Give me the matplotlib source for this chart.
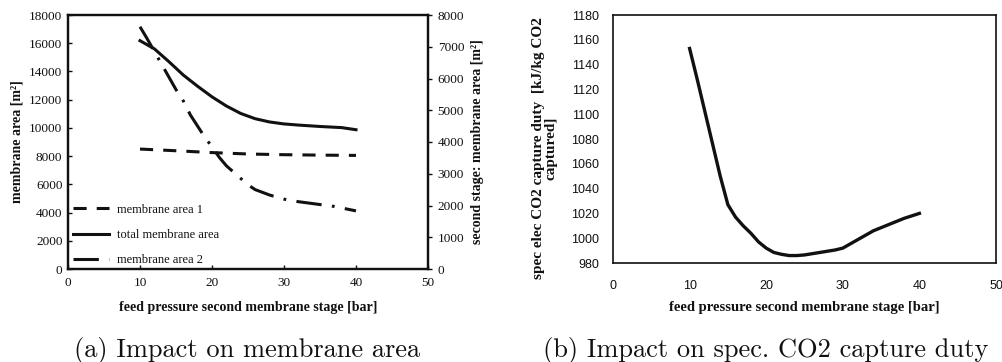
import matplotlib
matplotlib.use("Agg")
import matplotlib.pyplot as plt

# ---------------- data ----------------
# (a) membrane areas vs feed pressure of the second stage
p_area1 = [10, 15, 20, 25, 30, 35, 40]
area1 = [8500, 8380, 8250, 8150, 8100, 8070, 8050]

p_total = [10, 12, 14, 16, 18, 20, 22, 24, 26, 28, 30, 32, 35, 38, 40]
total_area = [16180, 15600, 14700, 13750, 12950, 12200, 11550, 11020, 10650, 10420, 10280, 10200, 10100, 10020, 9870]

p_area2 = [10, 11, 12, 13, 14, 15, 16, 17, 18, 19, 20, 21, 22, 23, 24, 25, 26, 28, 30, 32, 35, 37, 40]
area2 = [7630, 7250, 6850, 6450, 6050, 5650, 5300, 4850, 4500, 4150, 3850, 3520, 3250, 3050, 2850,
         2650, 2500, 2330, 2200, 2120, 2030, 1970, 1830]

# (b) specific electric CO2 capture duty
p_duty = [10, 11, 12, 13, 14, 15, 16, 17, 18, 19, 20, 21, 22, 23, 24, 25, 26, 27, 28, 29, 30,
          32, 34, 36, 38, 40]
duty = [1153, 1128, 1102, 1076, 1050, 1027, 1017, 1010, 1004, 997, 992, 988.5, 987, 986, 986,
        986.5, 987.5, 988.5, 989.5, 990.5, 992, 999, 1006, 1011, 1016, 1020]

x_ticks = [0, 10, 20, 30, 40, 50]
left_yticks = list(range(0, 18001, 2000))
right_yticks = list(range(0, 8001, 1000))
duty_yticks = list(range(980, 1181, 20))

xlabel = "feed pressure second membrane stage [bar]"
ylabel_a = "membrane area [m²]"
ylabel_a2 = "second stage: membrane area [m²]"
ylabel_b = "spec elec CO2 capture duty  [kJ/kg CO2\ncaptured]"
caption_a = "(a) Impact on membrane area"
caption_b = "(b) Impact on spec. CO2 capture duty"

# ---------------- figure ----------------
W, H = 1003, 362
fig = plt.figure(figsize=(W / 100, H / 100), dpi=100)
serif = "Liberation Serif"
sans = "Liberation Sans"
ink = "#111111"

def fr(x0, x1, ytop, ybot):
    return [x0 / W, 1 - ybot / H, (x1 - x0) / W, (ybot - ytop) / H]

# ---- (a) ----
ax = fig.add_axes(fr(68, 428, 15, 269))
ax2 = ax.twinx()

lw_a = 2.2
l1, = ax.plot(p_area1, area1, color=ink, lw=lw_a, linestyle=(0, (4.3, 3.3)),
              label="membrane area 1")
lt, = ax.plot(p_total, total_area, color=ink, lw=lw_a, label="total membrane area")
l2, = ax2.plot(p_area2, area2, color=ink, lw=lw_a, linestyle=(0, (8.3, 3.4, 0.9, 3.4)),
               label="membrane area 2")

ax.set_xlim(0, 50)
ax.set_ylim(0, 18000)
ax2.set_ylim(0, 8000)
ax.set_xticks(x_ticks)
ax.set_yticks(left_yticks)
ax2.set_yticks(right_yticks)

for a in (ax, ax2):
    for s in a.spines.values():
        s.set_linewidth(1.6)
        s.set_color(ink)

ax.tick_params(axis="both", direction="in", length=3, width=1, pad=4, labelsize=9.5,
               colors=ink)
ax.tick_params(axis="x", pad=6)
ax2.tick_params(axis="y", direction="out", length=3, width=1, pad=4, labelsize=9.5,
                colors=ink)
for lab in ax.get_xticklabels() + ax.get_yticklabels() + ax2.get_yticklabels():
    lab.set_fontfamily(serif)

ax.set_xlabel(xlabel, fontfamily=serif, fontweight="bold", fontsize=10, color=ink)
ax.xaxis.set_label_coords(0.5, (269 - 308) / 254)
ax.xaxis.label.set_va("center")
ax.set_ylabel(ylabel_a, fontfamily=serif, fontweight="bold", fontsize=10, color=ink)
ax.yaxis.set_label_coords((17 - 68) / 360, 0.5)
ax.yaxis.label.set_va("center")
ax2.set_ylabel(ylabel_a2, fontfamily=serif, fontweight="bold", fontsize=10, color=ink)
ax2.yaxis.set_label_coords((478 - 68) / 360, 0.5)
ax2.yaxis.label.set_va("center")

leg = ax2.legend([l1, lt, l2], [l1.get_label(), lt.get_label(), l2.get_label()],
                 loc="lower left", bbox_to_anchor=((73 - 68) / 360, 3 / 254),
                 frameon=False, borderpad=0, borderaxespad=0, handlelength=2.9,
                 handletextpad=0.6, labelspacing=1.05,
                 prop={"family": serif, "size": 9})
for t in leg.get_texts():
    t.set_color(ink)

# ---- (b) ----
bx = fig.add_axes(fr(613, 996, 15, 263))
bx.plot(p_duty, duty, color=ink, lw=2.4, solid_joinstyle="round")
bx.set_xlim(0, 50)
bx.set_ylim(980, 1180)
bx.set_xticks(x_ticks)
bx.set_yticks(duty_yticks)
for s in bx.spines.values():
    s.set_linewidth(1.2)
    s.set_color(ink)
bx.tick_params(axis="both", length=0, labelsize=9, colors=ink)
bx.tick_params(axis="y", pad=10)
bx.tick_params(axis="x", pad=12)
for lab in bx.get_xticklabels() + bx.get_yticklabels():
    lab.set_fontfamily(sans)

bx.set_xlabel(xlabel, fontfamily=serif, fontweight="bold", fontsize=10.5, color=ink)
bx.xaxis.set_label_coords(0.5, (263 - 308) / 248)
bx.xaxis.label.set_va("center")
bx.set_ylabel(ylabel_b, fontfamily=serif, fontweight="bold", fontsize=11, color=ink,
              linespacing=1.0)
bx.yaxis.set_label_coords((545 - 613) / 383, (263 - 148) / 248)
bx.yaxis.label.set_va("center")

# ---- captions ----
fig.text(247 / W, 1 - 350 / H, caption_a, fontfamily="cmr10", fontsize=19,
         ha="center", va="center", color=ink)
fig.text(766 / W, 1 - 350 / H, caption_b, fontfamily="cmr10", fontsize=19,
         ha="center", va="center", color=ink)

fig.savefig("out.png", dpi=100, facecolor="white")
